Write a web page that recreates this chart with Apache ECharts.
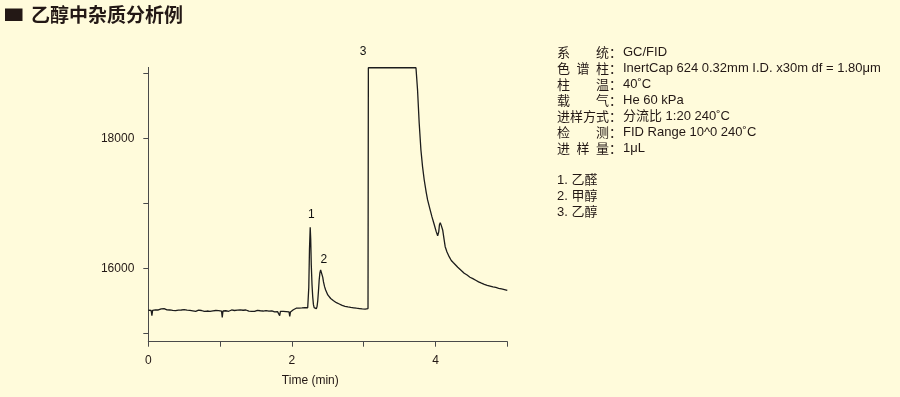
<!DOCTYPE html>
<html>
<head>
<meta charset="utf-8">
<script src="https://cdn.jsdelivr.net/npm/echarts@6/dist/echarts.min.js"></script>
<style>
html,body{margin:0;padding:0;background:#FFFBDB;}
#c{width:900px;height:397px;}
</style>
</head>
<body>
<div id="c"></div>
<script>
// ---- data ----
const times = [
0.00,0.02,0.04,0.05,0.06,0.08,0.10,0.12,0.14,0.16,0.18,0.20,0.22,0.24,0.26,0.28,0.30,0.32,0.34,0.36,0.38,0.40,
0.42,0.44,0.46,0.48,0.50,0.52,0.54,0.56,0.58,0.60,0.62,0.64,0.66,0.68,0.70,0.72,0.74,0.76,0.78,0.80,0.82,0.84,
0.86,0.88,0.90,0.92,0.94,0.96,0.98,1.00,1.02,1.03,1.04,1.06,1.08,1.10,1.12,1.14,1.16,1.18,1.20,1.22,1.24,1.26,
1.28,1.30,1.32,1.34,1.36,1.38,1.40,1.42,1.44,1.46,1.48,1.50,1.52,1.54,1.56,1.58,1.60,1.62,1.64,1.66,1.68,1.70,
1.72,1.74,1.76,1.78,1.80,1.82,1.83,1.84,1.86,1.88,1.90,1.92,1.94,1.96,1.97,1.98,2.00,2.02,2.04,2.06,2.08,2.10,
2.12,2.14,2.16,2.18,2.20,2.22,
2.225,2.235,2.245,2.255,2.262,2.27,2.28,2.29,2.30,2.31,2.32,2.33,2.34,2.35,2.36,2.37,2.38,2.39,2.40,2.41,2.42,
2.43,2.44,2.455,2.47,2.48,2.50,2.52,2.54,2.56,2.58,2.60,2.62,2.64,2.66,2.68,2.70,2.72,2.74,2.76,2.78,2.80,2.82,
2.84,2.86,2.88,2.90,2.92,2.94,2.96,2.98,3.00,3.02,3.04,3.06,
3.065,3.728,3.75,3.773,3.797,3.82,3.843,3.87,3.89,3.92,3.95,3.98,4.01,4.03,4.04,4.045,4.055,4.066,4.08,4.10,
4.12,4.135,4.16,4.19,4.22,4.25,4.28,4.31,4.34,4.37,4.40,4.42,4.44,4.46,4.48,4.50,4.52,4.54,4.56,4.58,4.60,4.62,
4.64,4.66,4.68,4.70,4.72,4.74,4.76,4.78,4.80,4.82,4.84,4.86,4.88,4.90,4.92,4.94,4.96,4.98,5.00
];
const signal = [
15355,15362,15350,15270,15352,15368,15360,15372,15358,15366,15375,15362,15380,15368,15360,15372,15358,15365,15352,15360,15348,15362,
15355,15345,15358,15350,15362,15346,15355,15342,15352,15360,15345,15350,15338,15348,15356,15340,15350,15345,15336,15352,15342,15348,
15338,15355,15345,15340,15350,15342,15348,15344,15340,15245,15342,15335,15346,15352,15338,15346,15358,15342,15350,15340,15355,15345,
15360,15348,15354,15342,15358,15346,15340,15352,15338,15348,15335,15345,15352,15340,15346,15332,15342,15338,15348,15334,15340,15330,
15345,15336,15328,15340,15332,15338,15270,15335,15325,15338,15328,15334,15322,15330,15258,15328,15340,15362,15378,15385,15392,15386,
15398,15390,15385,15395,15388,15392,
15420,15700,16300,16631,16450,16050,15750,15560,15440,15395,15378,15370,15378,15410,15500,15650,15820,15930,15975,15985,15950,
15860,15790,15717,15665,15635,15590,15560,15535,15515,15500,15482,15470,15458,15450,15436,15428,15425,15415,15420,15405,15410,15398,
15402,15392,15396,15385,15390,15380,15386,15375,15382,15372,15378,15380,
19085,19085,18743,18231,17820,17560,17358,17170,17051,16920,16794,16680,16563,16500,16477,16560,16670,16702,16660,16589,
16440,16332,16250,16178,16120,16085,16051,16015,15985,15955,15923,15912,15895,15885,15862,15858,15840,15832,15815,15808,15790,15786,
15770,15766,15752,15750,15738,15741,15726,15728,15714,15716,15704,15706,15692,15694,15682,15684,15672,15668,15660
];
const peakLabelNames = ['1','2','3'];
const peakLabelTimes = [2.27, 2.445, 2.99];
const peakLabelValues = [16820, 16128, 19332];
const xTickValues = [0,1,2,3,4,5];
const xLabelValues = [0,2,4];
const yTickValues = [15000,16000,17000,18000,19000];
const yLabelValues = [16000,18000];
const infoLabels = [['系','统'],['色','谱','柱'],['柱','温'],['载','气'],['进','样','方','式'],['检','测'],['进','样','量']];
const infoValues = ['GC/FID','InertCap 624 0.32mm I.D. x30m df = 1.80μm','40˚C','He 60 kPa','分流比 1:20 240˚C','FID Range 10^0 240˚C','1μL'];
const peakNames = ['1. 乙醛','2. 甲醇','3. 乙醇'];
const titleText = '乙醇中杂质分析例';

// ---- chart ----
const TXT = '#231815';
const FONT = '"Liberation Sans", Arial, "Noto Sans CJK SC", sans-serif';
const CJK = '"Noto Sans CJK SC", sans-serif';
const chart = echarts.init(document.getElementById('c'), null, {renderer:'canvas'});

const graphics = [];
graphics.push({type:'rect', shape:{x:5, y:8.5, width:17.5, height:12.5}, style:{fill:TXT}});
graphics.push({type:'text', x:31, y:14.5, style:{text:titleText, fill:TXT, font:'bold 19px ' + CJK, textVerticalAlign:'middle'}});

const lineY0 = 52.3, lineStep = 16;
const colX = {2:[557,596],3:[557,576.5,596],4:[557,570,583,596]};
infoLabels.forEach(function(chars, i){
  const y = lineY0 + i*lineStep;
  const xs = colX[chars.length];
  chars.forEach(function(ch, j){
    graphics.push({type:'text', x:xs[j], y:y, style:{text:ch, fill:TXT, font:'13px ' + CJK, textVerticalAlign:'middle'}});
  });
  graphics.push({type:'text', x:609, y:y, style:{text:'：', fill:TXT, font:'13px ' + CJK, textVerticalAlign:'middle'}});
  graphics.push({type:'text', x:623, y:y, style:{text:infoValues[i], fill:TXT, font:'13px ' + FONT, textVerticalAlign:'middle'}});
});
peakNames.forEach(function(n, i){
  graphics.push({type:'text', x:557, y:180 + i*lineStep, style:{text:n, fill:TXT, font:'13px ' + FONT, textVerticalAlign:'middle'}});
});

const option = {
  backgroundColor:'#FFFBDB',
  animation:false,
  grid:{left:148.3, right:392.7, top:67.4, bottom:55.3, containLabel:false},
  xAxis:{
    type:'value', min:0, max:5, interval:1,
    name:'Time (min)', nameLocation:'middle', nameGap:33,
    nameTextStyle:{color:TXT, fontSize:12, fontFamily:FONT, padding:[0,35,0,0]},
    axisLine:{show:true, lineStyle:{color:'#4a4a4a', width:1}},
    axisTick:{show:true, length:5, inside:false, customValues:xTickValues, lineStyle:{color:'#4a4a4a'}},
    axisLabel:{show:true, customValues:xLabelValues, margin:13, color:TXT, fontSize:12, fontFamily:FONT,
      formatter:function(v){return String(v);}},
    splitLine:{show:false}
  },
  yAxis:{
    type:'value', min:14870, max:19090,
    axisLine:{show:true, lineStyle:{color:'#4a4a4a', width:1}},
    axisTick:{show:true, length:5, inside:false, customValues:yTickValues, lineStyle:{color:'#4a4a4a'}},
    axisLabel:{show:true, customValues:yLabelValues, margin:14, color:TXT, fontSize:12, fontFamily:FONT,
      formatter:function(v){return String(v);}},
    splitLine:{show:false}
  },
  series:[
    {
      type:'line', data:times.map(function(t,i){return [t, signal[i]];}),
      showSymbol:false, symbol:'none', smooth:false,
      lineStyle:{color:'#1c1c1c', width:1.3}, clip:true
    },
    {
      type:'scatter', symbolSize:1, clip:false, silent:true,
      data:peakLabelTimes.map(function(t,i){return [t, peakLabelValues[i], peakLabelNames[i]];}),
      label:{show:true, position:'inside', formatter:function(p){return p.value[2];},
        color:'#111', fontSize:12, fontFamily:FONT, textBorderWidth:0, opacity:1},
      itemStyle:{color:'rgba(0,0,0,0)'}
    }
  ],
  graphic:graphics
};
chart.setOption(option);
</script>
</body>
</html>
